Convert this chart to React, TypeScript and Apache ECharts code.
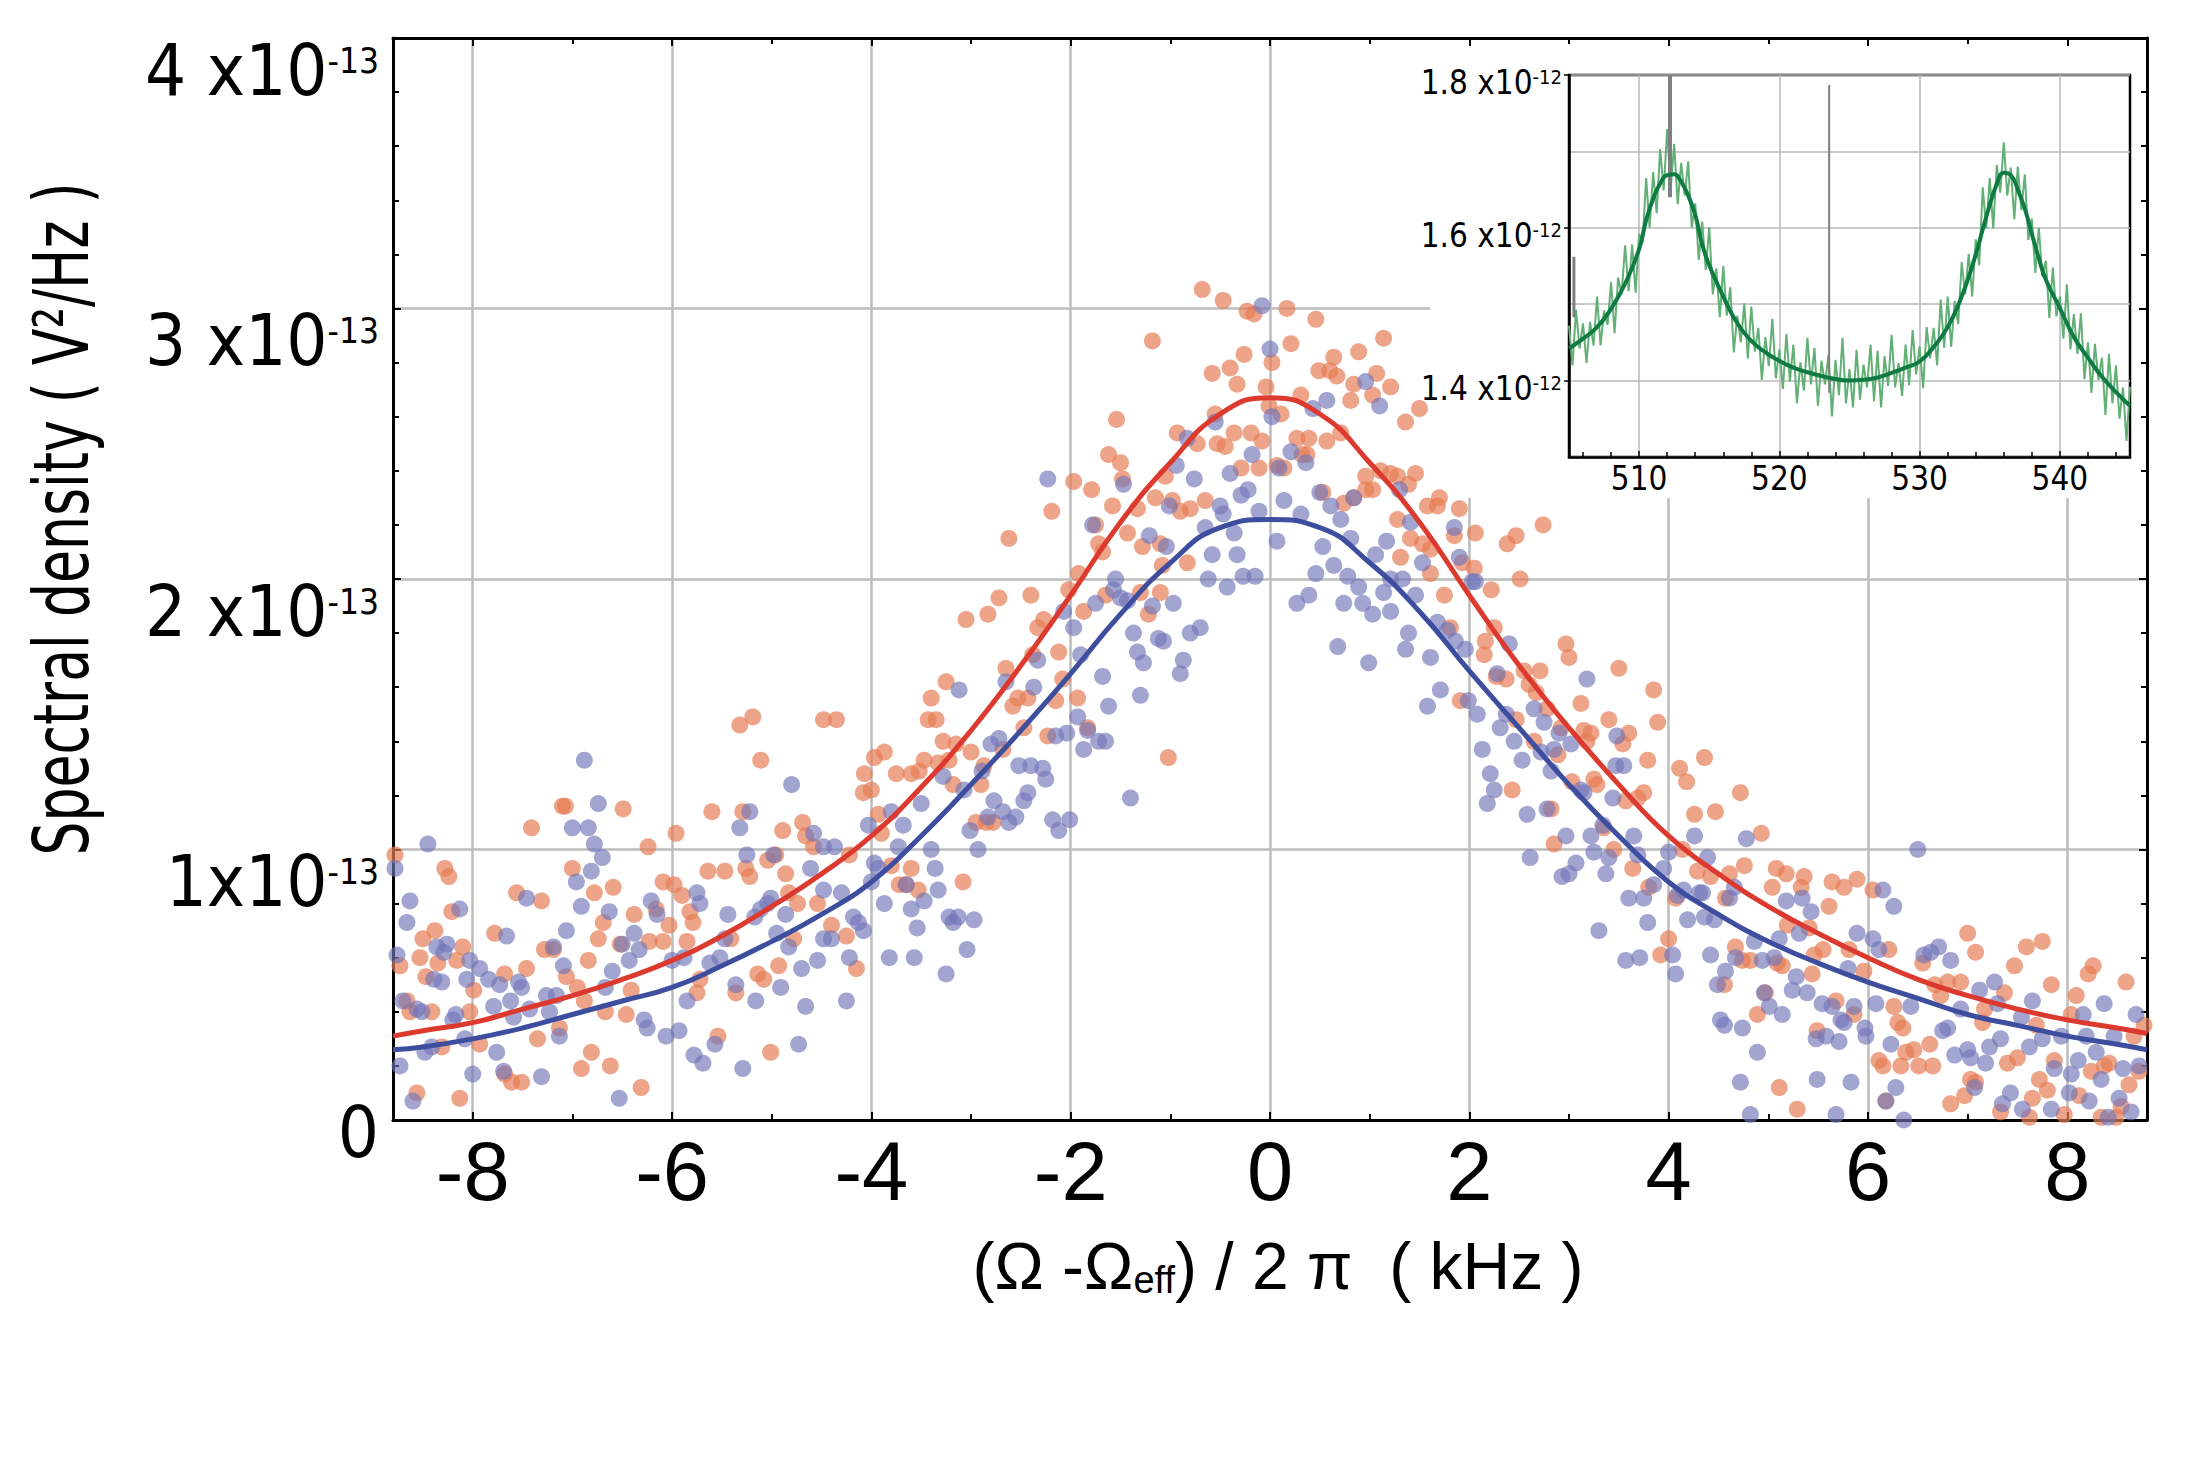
import React, { useEffect, useRef } from "react";
import * as echarts from "echarts";

const W = 2202;
const H = 1457;

// ---------- Main panel data (x in kHz, y in units of 1e-13 V^2/Hz) ----------
const xRange = [-8.8, 8.8];
const yRange = [0, 4];
const xMajorTicks = [-8, -6, -4, -2, 0, 2, 4, 6, 8];
const xMinorTicks = [-7, -5, -3, -1, 1, 3, 5, 7];
const yTickLabels = ["0", "1x10", "2 x10", "3 x10", "4 x10"];
const yExponent = "-13";

const orangePoints = [
[-8.81,0.48],[-8.81,0.38],[-8.78,0.98],[-8.73,0.57],[-8.66,0.44],[-8.63,0.40],[-8.56,0.10],[-8.53,0.60],[-8.50,0.67],[-8.47,0.53],[-8.41,0.40],[-8.38,0.70],[-8.35,0.58],[-8.31,0.27],[-8.28,0.93],[-8.24,0.90],[-8.21,0.77],[-8.16,0.59],[-8.13,0.08],[-8.10,0.64],[-8.03,0.40],[-7.99,0.48],[-7.93,0.28],[-7.78,0.69],[-7.68,0.54],[-7.68,0.17],[-7.61,0.14],[-7.56,0.84],[-7.51,0.14],[-7.46,0.56],[-7.41,1.08],[-7.35,0.30],[-7.31,0.81],[-7.28,0.63],[-7.19,0.63],[-7.13,0.34],[-7.10,1.16],[-7.07,1.16],[-7.06,0.53],[-7.00,0.93],[-6.95,0.49],[-6.91,0.19],[-6.88,0.44],[-6.84,0.59],[-6.81,0.25],[-6.78,0.84],[-6.74,0.67],[-6.69,0.73],[-6.67,0.40],[-6.62,0.20],[-6.59,0.86],[-6.52,0.65],[-6.49,1.15],[-6.46,0.39],[-6.41,0.48],[-6.38,0.76],[-6.31,0.12],[-6.24,1.01],[-6.23,0.66],[-6.16,0.78],[-6.09,0.88],[-6.09,0.66],[-6.03,0.72],[-5.98,0.87],[-5.96,1.06],[-5.90,0.83],[-5.85,0.66],[-5.82,0.77],[-5.79,0.73],[-5.75,0.47],[-5.72,0.52],[-5.64,0.92],[-5.60,1.14],[-5.54,0.31],[-5.47,0.92],[-5.41,0.67],[-5.36,0.47],[-5.32,1.46],[-5.29,1.14],[-5.26,0.93],[-5.22,0.90],[-5.19,1.49],[-5.14,0.54],[-5.11,1.33],[-5.08,0.52],[-5.04,0.96],[-5.01,0.25],[-4.96,0.98],[-4.93,0.57],[-4.89,1.07],[-4.86,0.91],[-4.83,0.84],[-4.78,0.67],[-4.74,0.80],[-4.69,1.10],[-4.66,1.05],[-4.58,1.01],[-4.54,0.80],[-4.48,1.48],
[-4.40,0.72],[-4.35,1.48],[-4.25,0.68],[-4.22,0.98],[-4.15,0.56],[-4.08,1.21],[-4.07,1.28],[-4.00,1.22],[-3.97,1.34],[-3.93,1.13],[-3.90,1.06],[-3.87,1.36],[-3.80,0.94],[-3.75,1.28],[-3.72,0.87],[-3.65,0.87],[-3.60,0.93],[-3.60,1.28],[-3.53,0.85],[-3.52,1.29],[-3.47,1.33],[-3.43,1.48],[-3.40,1.56],[-3.35,1.48],[-3.33,1.32],[-3.28,1.40],[-3.25,1.62],[-3.22,1.33],[-3.18,1.24],[-3.15,1.39],[-3.08,0.88],[-3.05,1.85],[-3.00,1.36],[-2.95,1.10],[-2.90,1.24],[-2.87,1.31],[-2.85,1.10],[-2.83,1.87],[-2.78,1.10],[-2.72,1.93],[-2.68,1.37],[-2.65,1.67],[-2.62,2.15],[-2.58,1.53],[-2.53,1.56],[-2.47,1.45],[-2.43,1.56],[-2.40,1.94],[-2.38,1.72],[-2.33,1.82],[-2.27,1.85],[-2.23,1.42],[-2.19,2.25],[-2.15,1.55],[-2.12,1.73],[-2.08,1.63],[-2.02,1.96],[-1.97,2.36],[-1.93,1.56],[-1.92,2.02],[-1.87,1.88],[-1.83,1.45],[-1.79,2.33],[-1.75,2.20],[-1.72,2.13],[-1.68,2.10],[-1.65,1.94],[-1.62,2.46],[-1.58,2.27],[-1.54,2.59],[-1.50,2.43],[-1.48,2.37],[-1.43,2.17],[-1.33,2.26],[-1.30,1.95],[-1.28,2.12],[-1.22,1.87],[-1.18,2.88],[-1.15,2.30],[-1.10,1.95],[-1.10,2.13],[-1.08,2.05],[-1.05,2.38],[-1.02,1.34],[-0.98,2.29],[-0.93,2.54],[-0.90,2.25],[-0.83,2.06],[-0.80,2.26],[-0.73,2.50],[-0.68,3.07],[-0.65,2.29],[-0.58,2.76],[-0.55,2.61],[-0.53,2.50],[-0.47,3.03],[-0.45,2.49],[-0.40,2.78],[-0.36,2.54],[-0.33,2.72],[-0.29,2.41],[-0.26,2.83],[-0.23,2.99],[-0.19,2.54],[-0.16,2.98],[-0.11,2.41],[-0.08,2.51],[-0.04,2.71],[-0.01,2.64],[0.02,2.80],[0.07,2.42],[0.11,2.61],[0.14,2.41],[0.17,3.00],[0.21,2.87],[0.27,2.52],[0.31,2.68],[0.32,2.46],[0.37,2.46],[0.39,2.52],[0.46,2.96],[0.49,2.77],[0.53,2.32],[0.57,2.51],[0.60,2.77],[0.64,2.82],[0.67,2.75],[0.71,2.54],[0.74,2.28],[0.81,2.66],[0.84,2.72],[0.84,2.30],[0.89,2.84],[0.96,2.33],[0.96,2.38],[1.03,2.68],[1.03,2.33],[1.07,2.76],[1.11,2.40],[1.14,2.89],[1.21,2.71],[1.21,2.39],[1.28,2.38],[1.28,2.22],[1.31,2.08],[1.36,2.58],[1.39,2.35],[1.41,2.15],[1.46,2.39],[1.50,2.63],[1.53,2.13],[1.58,2.27],[1.61,2.11],[1.61,2.02],[1.68,2.27],[1.70,2.30],[1.75,1.94],[1.81,1.82],[1.85,2.16],[1.90,2.26],[1.91,1.55],[1.93,2.06],[2.05,2.04],[2.06,2.17],[2.15,1.72],[2.16,1.77],[2.22,1.96],[2.25,1.82],[2.27,1.64],[2.37,1.63],[2.38,2.13],[2.47,2.16],[2.47,1.48],[2.51,2.00],[2.74,2.20],
[2.55,1.66],[2.71,1.66],[2.60,1.61],[2.67,1.58],[2.97,1.76],[3.00,1.71],[2.78,1.52],[2.65,1.40],[2.92,1.45],[2.89,1.35],[3.12,1.54],[3.15,1.44],[3.22,1.43],[3.18,1.40],[3.40,1.48],[3.50,1.67],[3.60,1.43],[3.54,1.39],[3.85,1.59],[3.89,1.47],[3.79,1.33],[3.03,1.25],[3.25,1.26],[3.28,1.24],[2.43,1.22],[2.82,1.15],[2.85,1.02],[3.57,1.18],[3.69,1.19],[3.75,1.21],[3.35,1.08],[3.45,1.00],[3.64,0.93],[3.80,0.86],[4.07,0.82],[4.11,1.30],[4.18,1.25],[4.26,1.13],[4.36,1.34],[4.47,1.14],[4.72,1.21],[4.14,1.00],[4.29,0.92],[4.42,0.90],[4.57,0.82],[4.61,0.91],[4.76,0.94],[4.93,1.06],[5.08,0.93],[5.18,0.91],[5.04,0.86],[5.36,0.90],[5.33,0.86],[5.61,0.79],[5.64,0.88],[5.76,0.86],[5.89,0.89],[6.05,0.85],[5.81,0.63],[5.96,0.55],[6.21,0.63],[6.55,0.58],[6.67,0.50],[5.46,0.61],[5.55,0.63],[5.41,0.71],[5.19,0.72],[5.09,0.58],[5.14,0.57],[4.67,0.64],[4.74,0.59],[4.82,0.59],[4.56,0.50],[3.92,0.61],[4.00,0.67],[6.26,0.42],[5.68,0.44],[5.86,0.39],[4.89,0.39],[5.44,0.54],[4.97,0.47],
[7.00,0.69],[7.08,0.62],[7.47,0.57],[7.59,0.64],[7.75,0.66],[7.84,0.50],[8.09,0.46],[8.21,0.54],[8.26,0.57],[8.59,0.51],[6.80,0.51],[6.93,0.51],[6.73,0.46],[7.17,0.41],[7.37,0.47],[7.15,0.36],[7.69,0.35],[8.04,0.39],[7.87,0.22],[7.50,0.23],[7.40,0.21],[8.24,0.18],[8.37,0.20],[8.42,0.21],[8.62,0.13],[8.72,0.18],[8.77,0.35],[8.67,0.31],[7.03,0.15],[7.08,0.14],[6.97,0.09],[6.83,0.06],[7.33,0.03],[7.65,0.08],[7.72,0.15],[7.80,0.11],[7.97,0.02],[8.12,0.09],[8.34,0.01],[8.49,0.01],[8.54,0.05],[7.62,0.01],[6.11,0.22],[6.15,0.20],[6.33,0.20],[6.51,0.20],[6.65,0.20],[6.38,0.25],[6.46,0.26],[6.62,0.28],[6.35,0.34],[6.30,0.36],[5.49,0.33],[5.11,0.12],[5.29,0.04],[6.18,0.07]
];

const bluePoints = [
[-8.78,0.93],[-8.76,0.61],[-8.73,0.20],[-8.70,0.44],[-8.66,0.73],[-8.63,0.81],[-8.60,0.07],[-8.56,0.41],[-8.51,0.40],[-8.48,0.25],[-8.45,1.02],[-8.41,0.27],[-8.39,0.52],[-8.36,0.64],[-8.31,0.51],[-8.29,0.62],[-8.26,0.65],[-8.20,0.37],[-8.17,0.39],[-8.13,0.78],[-8.08,0.30],[-8.06,0.52],[-8.03,0.59],[-8.00,0.17],[-7.93,0.56],[-7.84,0.52],[-7.79,0.42],[-7.76,0.25],[-7.73,0.50],[-7.69,0.18],[-7.66,0.68],[-7.62,0.44],[-7.59,0.38],[-7.54,0.51],[-7.51,0.49],[-7.46,0.82],[-7.43,0.41],[-7.31,0.16],[-7.26,0.46],[-7.23,0.40],[-7.19,0.64],[-7.16,0.46],[-7.13,0.31],[-7.09,0.57],[-7.06,0.70],[-7.00,1.08],[-6.96,0.88],[-6.91,0.79],[-6.88,1.33],[-6.84,1.08],[-6.81,0.92],[-6.78,1.02],[-6.74,1.17],[-6.70,0.97],[-6.67,0.49],[-6.63,0.77],[-6.60,0.55],[-6.53,0.08],[-6.50,0.65],[-6.43,0.59],[-6.38,0.69],[-6.33,0.63],[-6.28,0.37],[-6.25,0.34],[-6.21,0.81],[-6.15,0.76],[-6.06,0.31],[-6.00,0.59],[-5.93,0.33],[-5.88,0.60],[-5.85,0.44],[-5.78,0.24],[-5.75,0.84],[-5.72,0.80],[-5.69,0.21],[-5.62,0.58],[-5.57,0.28],[-5.52,0.60],[-5.47,0.67],[-5.44,0.76],[-5.36,0.50],[-5.32,1.08],[-5.29,0.19],[-5.25,0.98],[-5.22,1.14],[-5.17,0.75],[-5.16,0.44],[-5.11,0.78],[-5.04,0.80],[-5.01,0.82],[-4.98,0.98],[-4.95,0.69],[-4.91,0.49],[-4.86,0.76],[-4.83,0.64],[-4.80,1.24],[-4.73,0.28],[-4.70,0.56],[-4.66,0.42],[-4.61,0.93],[-4.58,1.06],[-4.54,0.59],[-4.48,1.01],[-4.48,0.85],[-4.48,0.67],
[-4.40,0.67],[-4.37,1.01],[-4.30,0.84],[-4.25,0.44],[-4.22,0.60],[-4.18,0.75],[-4.13,0.73],[-4.08,0.70],[-4.03,1.09],[-4.00,0.88],[-3.97,0.95],[-3.93,0.93],[-3.87,0.80],[-3.82,0.60],[-3.80,1.14],[-3.73,1.01],[-3.68,1.09],[-3.65,0.87],[-3.60,0.78],[-3.57,0.60],[-3.54,0.71],[-3.50,1.17],[-3.47,0.81],[-3.40,1.00],[-3.36,0.93],[-3.33,0.85],[-3.28,1.27],[-3.25,0.54],[-3.22,0.75],[-3.18,0.73],[-3.13,0.75],[-3.12,1.59],[-3.07,1.22],[-3.04,0.63],[-3.01,1.07],[-2.97,0.74],[-2.93,1.00],[-2.89,1.29],[-2.83,1.12],[-2.80,1.39],[-2.77,1.18],[-2.72,1.41],[-2.68,1.14],[-2.65,1.62],[-2.62,1.10],[-2.55,1.12],[-2.52,1.31],[-2.47,1.18],[-2.43,1.21],[-2.40,1.31],[-2.37,1.60],[-2.33,1.70],[-2.28,1.30],[-2.25,1.26],[-2.23,2.37],[-2.18,1.11],[-2.15,1.42],[-2.12,1.07],[-2.07,1.88],[-2.04,1.43],[-2.01,1.11],[-1.97,1.82],[-1.93,1.49],[-1.90,1.72],[-1.87,1.37],[-1.83,1.44],[-1.78,2.20],[-1.75,1.91],[-1.72,1.40],[-1.68,1.64],[-1.65,1.40],[-1.62,1.53],[-1.57,1.96],[-1.55,2.00],[-1.50,1.93],[-1.47,2.35],[-1.43,1.92],[-1.40,1.19],[-1.37,1.80],[-1.33,1.73],[-1.30,1.57],[-1.27,1.69],[-1.21,2.16],[-1.18,1.90],[-1.12,1.78],[-1.07,1.77],[-1.04,2.12],[-1.01,2.27],[-0.97,1.91],[-0.94,2.42],[-0.90,1.65],[-0.87,1.70],[-0.83,2.52],[-0.80,1.80],[-0.76,2.37],[-0.70,1.82],[-0.65,2.19],[-0.62,2.00],[-0.58,2.09],[-0.55,2.58],[-0.50,2.27],[-0.47,2.24],[-0.43,1.97],[-0.40,2.39],[-0.36,2.17],[-0.33,2.09],[-0.29,2.31],[-0.27,2.01],[-0.22,2.33],[-0.18,2.46],[-0.15,2.01],[-0.11,2.25],[-0.08,3.01],[0.00,2.85],[0.02,2.60],[0.07,2.14],[0.09,2.41],[0.14,2.29],[0.21,2.47],[0.27,1.91],[0.31,2.24],[0.36,2.43],[0.39,1.94],[0.43,2.63],[0.46,2.02],[0.50,2.32],[0.53,2.12],[0.57,2.66],[0.61,2.27],[0.64,2.05],[0.68,1.75],[0.71,2.22],[0.74,1.91],[0.78,2.01],[0.81,2.15],[0.84,2.30],[0.89,1.97],[0.93,1.91],[0.96,2.73],[0.99,1.69],[1.03,1.87],[1.06,2.09],[1.10,2.64],[1.14,1.95],[1.17,2.14],[1.21,2.00],[1.21,1.88],[1.30,2.33],[1.33,2.00],[1.36,1.74],[1.39,1.80],[1.41,2.21],[1.46,1.94],[1.53,2.06],[1.58,1.53],[1.61,1.71],[1.68,1.84],[1.71,1.59],[1.78,1.81],[1.85,2.19],[1.86,1.77],[1.90,2.08],[1.96,1.74],[1.99,1.55],[2.03,1.99],[2.06,1.99],[2.08,1.50],[2.28,1.65],[2.37,1.50],[2.40,1.76],
[3.18,1.63],[2.65,1.52],[2.75,1.47],[2.31,1.45],[2.45,1.40],[2.53,1.33],[2.72,1.36],[2.85,1.37],[2.90,1.43],[3.02,1.39],[2.13,1.37],[2.21,1.28],[2.25,1.22],[2.18,1.17],[2.82,1.29],[3.12,1.22],[3.15,1.21],[3.48,1.42],[3.47,1.31],[3.55,1.31],[3.44,1.19],[2.58,1.13],[2.78,1.15],[2.97,1.05],[3.22,1.05],[3.34,1.09],[2.61,0.97],[2.93,0.90],[3.00,0.91],[3.25,0.99],[3.37,0.91],[3.07,0.95],[3.65,1.05],[3.69,0.98],[3.40,0.97],[3.30,0.70],[3.60,0.82],[3.75,0.82],[3.79,0.73],[3.85,0.87],[3.95,0.93],[4.00,0.99],[4.09,0.83],[4.15,0.85],[4.31,0.84],[4.34,0.84],[4.26,1.05],[4.39,0.97],[4.19,0.74],[4.36,0.75],[4.46,0.74],[3.57,0.59],[3.71,0.60],[4.04,0.61],[4.07,0.54],[4.42,0.61],[4.57,0.55],[4.49,0.50],[4.66,0.86],[4.61,0.82],[4.78,1.04],[4.67,0.60],[4.86,0.66],[4.94,0.59],[5.06,0.60],[5.11,0.67],[5.18,0.81],[5.31,0.69],[5.34,0.82],[5.43,0.77],[5.28,0.53],[5.24,0.48],[5.39,0.47],[5.54,0.43],[5.64,0.42],[5.89,0.69],[6.05,0.67],[6.11,0.63],[6.15,0.85],[6.26,0.79],[6.50,1.00],[5.80,0.56],[5.86,0.42],[6.08,0.43],[6.56,0.61],[6.63,0.62],[6.71,0.64],[6.43,0.42],[5.01,0.42],[5.14,0.39],[4.96,0.47],[4.52,0.37],[5.73,0.37],
[6.83,0.59],[7.12,0.48],[7.27,0.51],[7.30,0.43],[7.65,0.44],[7.54,0.38],[6.93,0.41],[6.75,0.33],[6.80,0.34],[7.00,0.26],[7.03,0.23],[6.87,0.24],[7.22,0.27],[7.33,0.30],[7.18,0.21],[7.43,0.10],[7.35,0.06],[7.55,0.04],[7.62,0.27],[7.75,0.30],[7.87,0.19],[7.94,0.31],[7.84,0.04],[8.02,0.10],[8.04,0.17],[8.11,0.22],[8.16,0.39],[8.19,0.31],[8.22,0.07],[8.29,0.25],[8.34,0.15],[8.37,0.43],[8.47,0.31],[8.52,0.08],[8.56,0.19],[8.64,0.03],[8.69,0.39],[8.72,0.20],[8.41,0.01],[7.07,0.12],[6.36,0.00],[6.28,0.12],[6.18,0.07],[5.83,0.14],[5.49,0.15],[5.68,0.02],[4.82,0.02],[4.72,0.14],[5.98,0.31],[5.97,0.34],[6.23,0.28],[5.71,0.29],[5.58,0.31],[5.48,0.30],[5.76,0.36],[4.89,0.25],[4.74,0.34],[4.56,0.35]
];

// Fitted Lorentzian curves
const fitX = [-8.8,-8.5,-8,-7.5,-7,-6.5,-6,-5.5,-5,-4.5,-4,-3.5,-3,-2.5,-2,-1.5,-1,-0.5,0,0.5,1,1.5,2,2.5,3,3.5,4,4.5,5,5.5,6,6.5,7,7.5,8,8.5,8.8];
const redFit = [0.31,0.33,0.36,0.41,0.46,0.52,0.59,0.68,0.79,0.91,1.05,1.23,1.44,1.68,1.94,2.21,2.43,2.61,2.67,2.61,2.43,2.21,1.94,1.68,1.45,1.24,1.05,0.91,0.79,0.69,0.60,0.52,0.46,0.41,0.37,0.34,0.32];
const blueFit = [0.26,0.27,0.30,0.34,0.39,0.44,0.49,0.57,0.66,0.76,0.88,1.05,1.24,1.44,1.65,1.87,2.06,2.19,2.22,2.19,2.06,1.88,1.66,1.45,1.24,1.05,0.88,0.76,0.66,0.58,0.51,0.45,0.39,0.35,0.31,0.28,0.26];

// ---------- Inset data (x in kHz, y in units of 1e-12 V^2/Hz) ----------
const insetXRange = [505, 545];
const insetYRange = [1.3, 1.8];
const insetXMajorTicks = [510, 520, 530, 540];
const insetXMinorTicks = [506,508,512,514,516,518,522,524,526,528,532,534,536,538,542,544];
const insetYLabelValues = [1.4, 1.6, 1.8];
const insetYLabels = ["1.4 x10", "1.6 x10", "1.8 x10"];
const insetExponent = "-12";

const noisyStart = 505;
const noisyStep = 0.25;
const noisyTrace = [
1.472,1.420,1.493,1.442,1.475,1.423,1.477,1.446,1.510,1.446,
1.492,1.473,1.529,1.462,1.535,1.513,1.577,1.517,1.578,1.515,
1.592,1.581,1.665,1.600,1.673,1.619,1.703,1.649,1.729,1.651,
1.710,1.631,1.685,1.642,1.687,1.600,1.632,1.558,1.608,1.545,
1.601,1.513,1.547,1.483,1.550,1.485,1.522,1.437,1.485,1.450,
1.501,1.429,1.497,1.438,1.469,1.401,1.457,1.419,1.481,1.403,
1.441,1.389,1.461,1.399,1.447,1.370,1.424,1.387,1.456,1.395,
1.443,1.367,1.426,1.395,1.434,1.353,1.427,1.381,1.456,1.370,
1.415,1.365,1.440,1.375,1.421,1.391,1.447,1.373,1.439,1.365,
1.432,1.393,1.460,1.391,1.423,1.380,1.447,1.394,1.466,1.408,
1.445,1.390,1.470,1.429,1.469,1.420,1.506,1.443,1.510,1.444,
1.504,1.474,1.555,1.513,1.566,1.510,1.585,1.551,1.653,1.599,
1.665,1.599,1.682,1.646,1.712,1.642,1.679,1.611,1.680,1.623,
1.670,1.584,1.612,1.541,1.600,1.536,1.557,1.482,1.548,1.484,
1.510,1.455,1.526,1.441,1.487,1.435,1.488,1.402,1.450,1.384,
1.448,1.401,1.430,1.355,1.435,1.370,1.420,1.350,1.391,1.321,
1.392
];

const greenFitX = [505,506,507,508,509,510,510.5,511,511.5,512,512.5,513,513.5,514,514.5,515,516,517,518,519,520,521,522,523,524,525,526,527,528,529,530,531,532,533,534,534.5,535,535.5,536,536.5,537,537.5,538,538.5,539,540,541,542,543,544,545];
const greenFit = [1.442,1.455,1.470,1.494,1.527,1.572,1.610,1.638,1.658,1.669,1.670,1.660,1.642,1.617,1.578,1.551,1.510,1.475,1.452,1.437,1.426,1.417,1.411,1.406,1.402,1.400,1.401,1.404,1.410,1.417,1.425,1.444,1.470,1.510,1.565,1.598,1.630,1.657,1.672,1.669,1.650,1.625,1.592,1.560,1.532,1.495,1.457,1.430,1.405,1.385,1.367];

// narrow gray spurious lines in the inset
const spikeX = [512.2, 523.55, 505.35];
const spikeLow = [1.64, 1.384, 1.483];
const spikeHigh = [1.8, 1.787, 1.562];

// ---------- styling ----------
const NARROW = "'Liberation Sans Narrow', 'DejaVu Sans Condensed', sans-serif";
const REGULAR = "'Liberation Sans', Arial, sans-serif";
const GRID_GRAY = "#bcbcbc";
const spikeWidths = [4, 2, 3];

function buildOption() {
  const black = "#000";
  const mainX = { min: xRange[0], max: xRange[1] };
  const mainY = { min: yRange[0], max: yRange[1] };

  const xAxes = [
    {
      gridIndex: 0, type: "value", position: "bottom", ...mainX, splitNumber: 9,
      axisLine: { show: true, onZero: false, lineStyle: { color: black, width: 3 } },
      axisTick: { show: true, inside: true, length: 8, customValues: xMajorTicks, lineStyle: { color: black, width: 2 } },
      axisLabel: { show: true, customValues: xMajorTicks, margin: 10, fontSize: 83, fontFamily: REGULAR, color: black, formatter: (v) => String(v) },
      splitLine: { show: true, lineStyle: { color: GRID_GRAY, width: 2.5 } },
    },
    {
      gridIndex: 0, type: "value", position: "bottom", ...mainX,
      axisLine: { show: false, onZero: false },
      axisTick: { show: true, inside: true, length: 6, customValues: xMinorTicks, lineStyle: { color: black, width: 2 } },
      axisLabel: { show: false }, splitLine: { show: false },
    },
    {
      gridIndex: 0, type: "value", position: "top", ...mainX, z: 2,
      axisLine: { show: true, onZero: false, lineStyle: { color: black, width: 3 } },
      axisTick: { show: true, inside: true, length: 8, customValues: xMajorTicks, lineStyle: { color: black, width: 2 } },
      axisLabel: { show: false }, splitLine: { show: false },
    },
    {
      gridIndex: 0, type: "value", position: "top", ...mainX, z: 2,
      axisLine: { show: false, onZero: false },
      axisTick: { show: true, inside: true, length: 6, customValues: xMinorTicks, lineStyle: { color: black, width: 2 } },
      axisLabel: { show: false }, splitLine: { show: false },
    },
    {
      gridIndex: 1, type: "value", position: "bottom", min: insetXRange[0], max: insetXRange[1], splitNumber: 4, z: 3,
      axisLine: { show: true, onZero: false, lineStyle: { color: black, width: 2.5 } },
      axisTick: { show: true, inside: true, length: 6, customValues: insetXMajorTicks, lineStyle: { color: black, width: 1.5 } },
      axisLabel: { show: true, customValues: insetXMajorTicks, margin: 5, fontSize: 33, fontFamily: NARROW, color: black },
      splitLine: { show: true, lineStyle: { color: "#b8b8b8", width: 1.5 } },
    },
    {
      gridIndex: 1, type: "value", position: "bottom", min: insetXRange[0], max: insetXRange[1], z: 3,
      axisLine: { show: false, onZero: false },
      axisTick: { show: true, inside: true, length: 5, customValues: insetXMinorTicks, lineStyle: { color: black, width: 1.5 } },
      axisLabel: { show: false }, splitLine: { show: false },
    },
  ];

  const yAxes = [
    {
      gridIndex: 0, type: "value", position: "left", ...mainY, interval: 1,
      axisLine: { show: true, onZero: false, lineStyle: { color: black, width: 3 } },
      axisTick: { show: true, inside: true, length: 8, lineStyle: { color: black, width: 2 } },
      minorTick: { show: true, splitNumber: 5, length: 6, lineStyle: { color: black, width: 2 } },
      axisLabel: {
        show: true, margin: 14, verticalAlign: "top", showMinLabel: true, showMaxLabel: true,
        formatter: (v) => {
          const i = Math.round(v);
          if (i === 0) return "{z|" + yTickLabels[0] + "}";
          return "{b|" + yTickLabels[i] + "}{s|" + yExponent + "}";
        },
        rich: {
          b: { fontSize: 72, lineHeight: 63, fontFamily: NARROW, color: black },
          s: { fontSize: 35, lineHeight: 41, verticalAlign: "top", padding: [5, 0, 0, 0], fontFamily: NARROW, color: black },
          z: { fontSize: 72, lineHeight: 24, fontFamily: NARROW, color: black },
        },
      },
      splitLine: { show: true, lineStyle: { color: GRID_GRAY, width: 2.5 } },
    },
    {
      gridIndex: 0, type: "value", position: "right", ...mainY, interval: 1, z: 2,
      axisLine: { show: true, onZero: false, lineStyle: { color: black, width: 3 } },
      axisTick: { show: true, inside: true, length: 8, lineStyle: { color: black, width: 2 } },
      minorTick: { show: true, splitNumber: 5, length: 6, lineStyle: { color: black, width: 2 } },
      axisLabel: { show: false }, splitLine: { show: false },
    },
    {
      gridIndex: 1, type: "value", position: "left", min: insetYRange[0], max: insetYRange[1], interval: 0.1, z: 3,
      axisLine: { show: true, onZero: false, lineStyle: { color: black, width: 2.5 } },
      axisTick: { show: false },
      axisLabel: {
        show: true, margin: 7, verticalAlign: "middle", padding: [16, 0, 0, 0], showMinLabel: true, showMaxLabel: true,
        formatter: (v) => {
          const i = insetYLabelValues.findIndex((t) => Math.abs(t - v) < 1e-6);
          if (i < 0) return "";
          return "{b|" + insetYLabels[i] + "}{s|" + insetExponent + "}";
        },
        rich: {
          b: { fontSize: 33, lineHeight: 32, verticalAlign: "bottom", fontFamily: NARROW, color: black },
          s: { fontSize: 20, verticalAlign: "top", fontFamily: NARROW, color: black },
        },
      },
      splitLine: { show: true, lineStyle: { color: "#b8b8b8", width: 1.5 } },
    },
    {
      gridIndex: 1, type: "value", position: "left", min: insetYRange[0], max: insetYRange[1], z: 3,
      axisLine: { show: false, onZero: false },
      axisTick: { show: true, inside: false, length: 5, customValues: insetYLabelValues, lineStyle: { color: black, width: 1.5 } },
      axisLabel: { show: false }, splitLine: { show: false },
    },
  ];

  const spikeSeries = spikeX.map((x, i) => ({
    type: "line", xAxisIndex: 4, yAxisIndex: 2, z: 4, showSymbol: false, silent: true,
    data: [[x, spikeLow[i]], [x, spikeHigh[i]]],
    lineStyle: { color: "#7d8080", width: spikeWidths[i] },
  }));

  return {
    animation: false,
    backgroundColor: "#ffffff",
    grid: [
      { left: 393, top: 38, right: 55, bottom: 337, containLabel: false, outerBoundsMode: "none" },
      { left: 1569, top: 75, right: 72, bottom: 1000, containLabel: false, outerBoundsMode: "none", show: true, borderColor: "#000", borderWidth: 2.5, backgroundColor: "transparent", z: 3 },
    ],
    xAxis: xAxes,
    yAxis: yAxes,
    graphic: {
      elements: [
        { type: "rect", z: 1, silent: true, shape: { x: 1430, y: 40, width: 716, height: 458 }, style: { fill: "#ffffff" } },
        {
          type: "text", z: 10, x: 62, y: 519, rotation: Math.PI / 2, scaleX: 0.785, silent: true,
          style: { text: "Spectral density ( V²/Hz )", fontSize: 76, fontFamily: NARROW, fill: "#000", align: "center", verticalAlign: "middle" },
        },
        {
          type: "text", z: 10, x: 1278, y: 1266, silent: true,
          style: {
            text: "{a|(Ω -Ω}{s|eff}{a|) / 2 π  ( kHz )}",
            align: "center", verticalAlign: "middle", fill: "#000",
            rich: {
              a: { fontSize: 66, lineHeight: 66, fontFamily: REGULAR, fill: "#000" },
              s: { fontSize: 38, lineHeight: 31, verticalAlign: "bottom", fontFamily: REGULAR, fill: "#000" },
            },
          },
        },
      ],
    },
    series: [
      {
        type: "scatter", xAxisIndex: 0, yAxisIndex: 0, data: orangePoints, symbolSize: 17, silent: true,
        itemStyle: { color: "#E57E56", opacity: 0.7 },
      },
      {
        type: "scatter", xAxisIndex: 0, yAxisIndex: 0, data: bluePoints, symbolSize: 17, silent: true,
        itemStyle: { color: "#7275B9", opacity: 0.65 },
      },
      {
        type: "line", xAxisIndex: 0, yAxisIndex: 0, smooth: true, showSymbol: false, silent: true,
        data: fitX.map((x, i) => [x, redFit[i]]),
        lineStyle: { color: "#DC3A2F", width: 5 },
      },
      {
        type: "line", xAxisIndex: 0, yAxisIndex: 0, smooth: true, showSymbol: false, silent: true,
        data: fitX.map((x, i) => [x, blueFit[i]]),
        lineStyle: { color: "#3E4E9E", width: 5 },
      },
      {
        type: "line", xAxisIndex: 4, yAxisIndex: 2, z: 4, showSymbol: false, silent: true,
        data: noisyTrace.map((v, i) => [noisyStart + i * noisyStep, v]),
        lineStyle: { color: "#62B075", width: 2 },
      },
      ...spikeSeries,
      {
        type: "line", xAxisIndex: 4, yAxisIndex: 2, z: 4, smooth: true, showSymbol: false, silent: true,
        data: greenFitX.map((x, i) => [x, greenFit[i]]),
        lineStyle: { color: "#0F7B43", width: 4 },
      },
    ],
  };
}

export default function App() {
  const ref = useRef<HTMLDivElement>(null);
  useEffect(() => {
    if (!ref.current) return;
    const chart = echarts.init(ref.current, null, { renderer: "svg", width: W, height: H });
    chart.setOption(buildOption() as any);
    return () => chart.dispose();
  }, []);
  return (
    <div
      ref={ref}
      style={{ position: "absolute", left: 0, top: 0, width: W, height: H, background: "#fff" }}
    />
  );
}
